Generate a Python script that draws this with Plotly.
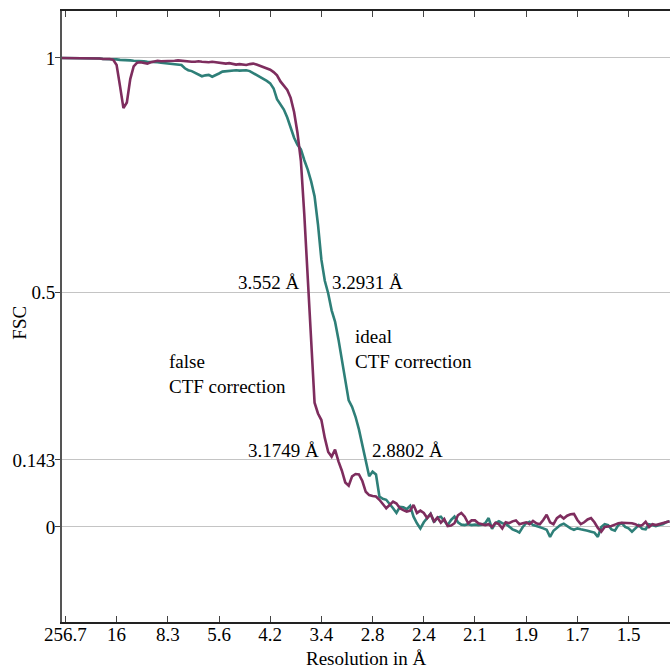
import numpy as np
import plotly.graph_objects as go

# Fourier shell index (shell k corresponds to 256.7 / k Angstrom)
box_length = 256.7
shells = np.arange(179)

# FSC with ideal CTF correction
fsc_ideal = [
    1.0, 1.0, 1.0, 1.0, 1.0, 1.0, 0.9995, 0.999, 0.999, 0.999,
    0.999, 0.999, 0.998, 0.998, 0.998, 0.997,
    0.997, 0.996, 0.996, 0.995, 0.995,
    0.994, 0.994, 0.993, 0.993, 0.992,
    0.992, 0.992, 0.991, 0.990, 0.989,
    0.988, 0.988, 0.987, 0.986, 0.985,
    0.978, 0.974, 0.972, 0.968, 0.964,
    0.961, 0.963, 0.964, 0.960, 0.963,
    0.967, 0.971, 0.972, 0.973, 0.973,
    0.974, 0.973, 0.973, 0.974, 0.972,
    0.968, 0.964, 0.960, 0.955, 0.951,
    0.946, 0.935, 0.912, 0.900, 0.890,
    0.873, 0.852, 0.830, 0.815, 0.805,
    0.782, 0.762, 0.737, 0.705, 0.645,
    0.570, 0.525, 0.498, 0.462, 0.438,
    0.400, 0.357, 0.315, 0.270, 0.256,
    0.235, 0.208, 0.175, 0.148, 0.108,
    0.118, 0.112, 0.065, 0.060, 0.058,
    0.050, 0.040, 0.030, 0.043, 0.042,
    0.038, 0.045, 0.022, 0.008, -0.003,
    0.010, 0.020, 0.028, 0.010, 0.020,
    0.022, 0.012, 0.004, 0.015, 0.022,
    0.010, 0.005, 0.004, 0.006, 0.004,
    0.005, 0.004, 0.005, 0.008, 0.019,
    -0.004, 0.008, 0.012, 0.008, 0.007,
    0.000, -0.005, -0.008, -0.012, 0.000,
    0.008, 0.011, 0.004, 0.002, 0.000,
    -0.003, -0.006, -0.021, -0.008, -0.002,
    0.004, 0.007, 0.002, -0.003, -0.006,
    -0.003, -0.005, -0.006, -0.008, -0.010,
    -0.012, -0.021, 0.000, 0.006, 0.004,
    -0.005, -0.008, 0.004, 0.008, 0.000,
    -0.003, -0.010, -0.003, 0.004, -0.004,
    -0.005, 0.006, 0.004, 0.002, 0.004,
    0.006, 0.010, 0.012,
]

# FSC with false CTF correction
fsc_false = [
    1.0, 1.0, 1.0, 1.0, 1.0, 1.0, 0.9995, 0.999, 0.999, 0.999,
    0.999, 0.999, 0.998, 0.998, 0.998,
    0.996, 0.985, 0.940, 0.893, 0.905, 0.955,
    0.982, 0.990, 0.991, 0.990, 0.988,
    0.991, 0.993, 0.994, 0.993, 0.993,
    0.993, 0.994, 0.994, 0.995, 0.994,
    0.994, 0.993, 0.992, 0.992, 0.993,
    0.992, 0.991, 0.991, 0.992, 0.991,
    0.990, 0.988, 0.988, 0.989, 0.987,
    0.986, 0.987, 0.986, 0.985, 0.987,
    0.988, 0.986, 0.983, 0.980, 0.977,
    0.975, 0.970, 0.963, 0.950, 0.940,
    0.932, 0.915, 0.885, 0.840, 0.780,
    0.665, 0.540, 0.390, 0.265, 0.242,
    0.228, 0.190, 0.160, 0.150, 0.165,
    0.140, 0.120, 0.095, 0.088, 0.108,
    0.113, 0.112, 0.098, 0.075, 0.068,
    0.066, 0.065, 0.058, 0.050, 0.040,
    0.047, 0.054, 0.050, 0.040, 0.036,
    0.033, 0.035, 0.047, 0.030, 0.035,
    0.030, 0.019, 0.028, 0.012, 0.020,
    0.009, 0.017, 0.002, 0.003, 0.008,
    0.025, 0.030, 0.022, 0.008, 0.014,
    0.014, 0.008, 0.006, 0.004, 0.006,
    0.000, 0.009, 0.006, -0.003, 0.010,
    0.008, 0.012, 0.014, 0.006, 0.008,
    0.010, 0.006, 0.013, 0.008, 0.006,
    0.015, 0.026, 0.010, 0.006, 0.019,
    0.024, 0.018, 0.024, 0.027, 0.028,
    0.015, 0.006, 0.010, 0.016, 0.019,
    0.010, -0.002, -0.010, 0.000, 0.001,
    0.002, 0.005, 0.008, 0.009, 0.009,
    0.009, 0.008, 0.006, 0.002, 0.004,
    0.011, 0.000, 0.006, 0.004, 0.006,
    0.008, 0.010, 0.012,
]

# Resolution axis ticks
tick_shells = [1, 16, 31, 46, 61, 76, 91, 106, 121, 136, 151, 166]
tick_labels = ["256.7", "16", "8.3", "5.6", "4.2", "3.4", "2.8", "2.4",
               "2.1", "1.9", "1.7", "1.5"]

# FSC thresholds and the resolutions where each curve crosses them
fsc_ticks = [0, 0.143, 0.5, 1]
fsc_tick_labels = ["0", "0.143", "0.5", "1"]
res_false_05, res_ideal_05 = 3.552, 3.2931
res_false_0143, res_ideal_0143 = 3.1749, 2.8802

PURPLE = "#7e2d5e"
TEAL = "#2e7f78"
FONT = "Liberation Serif"
FS = 19

fig = go.Figure()
fig.add_trace(go.Scatter(x=shells, y=fsc_ideal, mode="lines",
                         line=dict(color=TEAL, width=2.6), name="ideal"))
fig.add_trace(go.Scatter(x=shells, y=fsc_false, mode="lines",
                         line=dict(color=PURPLE, width=2.6), name="false"))


def res_label(x_res, y, anchor, xshift, yshift):
    fig.add_annotation(x=box_length / x_res, y=y, xref="x", yref="y",
                       text=f"{x_res} Å", showarrow=False, xanchor=anchor,
                       yanchor="middle", xshift=xshift, yshift=yshift,
                       font=dict(family=FONT, size=FS, color="black"))


res_label(res_false_05, 0.5, "right", -7, 10)
res_label(res_ideal_05, 0.5, "left", 2, 10)
res_label(res_false_0143, 0.143, "right", -17, 9)
res_label(res_ideal_0143, 0.143, "left", 4, 9)

fig.add_annotation(x=30.8, y=0.326, xref="x", yref="y",
                   text="false<br>CTF correction", showarrow=False,
                   xanchor="left", yanchor="middle", align="left",
                   font=dict(family=FONT, size=FS, color="black"))
fig.add_annotation(x=85.3, y=0.38, xref="x", yref="y",
                   text="ideal<br>CTF correction", showarrow=False,
                   xanchor="left", yanchor="middle", align="left",
                   font=dict(family=FONT, size=FS, color="black"))

# Axis titles
fig.add_annotation(x=0.5, y=-48 / 611, xref="paper", yref="paper",
                   text="Resolution in Å", showarrow=False,
                   xanchor="center", yanchor="bottom", borderpad=0,
                   font=dict(family=FONT, size=FS, color="black"))
fig.add_annotation(x=-0.069, y=0.49, xref="paper", yref="paper",
                   text="FSC", showarrow=False, textangle=-90,
                   xanchor="center", yanchor="middle",
                   font=dict(family=FONT, size=FS, color="black"))

fig.update_layout(
    width=670, height=670,
    margin=dict(l=62, r=0, t=11, b=48),
    plot_bgcolor="white", paper_bgcolor="white",
    showlegend=False,
    font=dict(family=FONT, size=FS, color="black"),
    xaxis=dict(
        range=[0, 178.14], automargin=False,
        tickvals=tick_shells, ticktext=tick_labels,
        ticks="inside", ticklen=6, tickwidth=1.2, tickcolor="#444",
        showline=True, linecolor="#222", linewidth=1.5, mirror="ticks",
        showgrid=False, zeroline=False, ticklabelstandoff=-6,
        tickfont=dict(family=FONT, size=FS),
    ),
    yaxis=dict(
        range=[-0.2026, 1.1002], automargin=False,
        tickvals=fsc_ticks, ticktext=fsc_tick_labels,
        ticks="outside", ticklen=5, tickwidth=1.2, tickcolor="#444",
        showline=True, linecolor="#555", linewidth=2,
        showgrid=True, gridcolor="#c4c4c4", gridwidth=1.2,
        zeroline=False, ticklabelstandoff=-4,
        tickfont=dict(family=FONT, size=FS),
    ),
)

fig.write_html("out.html")
